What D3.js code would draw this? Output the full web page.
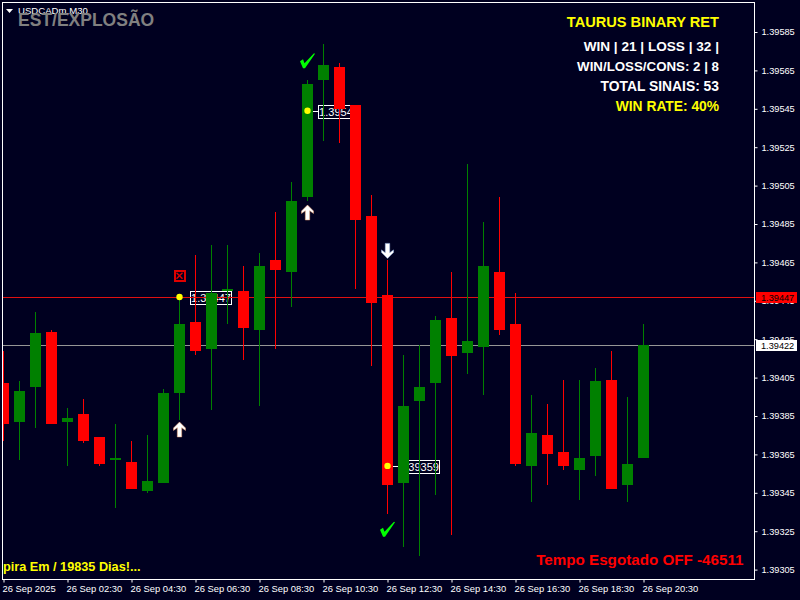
<!DOCTYPE html>
<html><head><meta charset="utf-8">
<script src="https://cdnjs.cloudflare.com/ajax/libs/d3/7.8.5/d3.min.js"></script>
<style>html,body{margin:0;padding:0;background:#000020;overflow:hidden}svg{display:block}text{font-family:"Liberation Sans",Arial,sans-serif}</style>
</head><body><svg id="c" width="800" height="600"></svg>
<script>
// Prices in points (1 point = 0.00001)
const opens=[139402,139382,139400,139429,139382,139386,139374,139362,139361,139346,139350,139397,139434,139420,139450,139450,139430,139466,139460,139499,139560,139567,139547,139489,139448,139350,139393,139402,139436,139418,139421,139460,139433,139359,139375,139366,139357,139364,139404,139349,139363];
const highs=[139419,139403,139439,139430,139389,139394,139374,139381,139372,139375,139399,139447,139469,139474,139474,139463,139470,139491,139507,139560,139579,139569,139547,139500,139466,139417,139422,139437,139460,139516,139486,139499,139449,139396,139391,139404,139404,139410,139419,139395,139433];
const lows=[139372,139362,139379,139381,139359,139371,139359,139337,139347,139345,139350,139383,139417,139388,139433,139414,139390,139420,139442,139497,139528,139527,139451,139411,139334,139317,139312,139344,139323,139407,139396,139427,139359,139340,139349,139357,139341,139354,139347,139340,139363];
const closes=[139381,139398,139428,139381,139384,139372,139360,139363,139347,139351,139397,139433,139419,139449,139451,139431,139463,139461,139497,139558,139568,139545,139487,139444,139349,139390,139400,139435,139416,139424,139463,139430,139360,139376,139365,139359,139363,139403,139347,139360,139422];
const priceTicks=[139585,139565,139545,139525,139505,139485,139465,139445,139425,139405,139385,139365,139345,139325,139305];
const timeIdx=[0,4,8,12,16,20,24,28,32,36,40];
const timeLabels=["26 Sep 2025","26 Sep 02:30","26 Sep 04:30","26 Sep 06:30","26 Sep 08:30","26 Sep 10:30","26 Sep 12:30","26 Sep 14:30","26 Sep 16:30","26 Sep 18:30","26 Sep 20:30"];
const bidPrice=139422, askPrice=139447;
const dotIdx=[11,19,24], dotPrice=[139447,139544,139359], dotText=["1.39447","1.39544","1.39359"];
const upIdx=[11,19], upPrice=[139378,139491];
const downIdx=[24], downPrice=[139471];
const checkIdx=[19,24], checkPrice=[139570,139326];
const crossIdx=[11], crossPrice=[139458];
const panelLines=["TAURUS BINARY RET","WIN | 21 | LOSS | 32 |","WIN/LOSS/CONS: 2 | 8","TOTAL SINAIS: 53","WIN RATE: 40%"];

const svg=d3.select("#c");
const L=2,T=2,R=754,B=579;
const x=d3.scaleLinear().domain([0,40]).range([3,643]);
const y=d3.scaleLinear().domain([139585,139305]).range([32,569.6]);
const GREEN="#008000",RED="#ff0000";
svg.append("rect").attr("width",800).attr("height",600).attr("fill","#000020");
svg.append("defs").append("clipPath").attr("id","plot").append("rect").attr("x",L+1).attr("y",T+1).attr("width",R-L-1).attr("height",B-T-1);
const plot=svg.append("g").attr("clip-path","url(#plot)").attr("shape-rendering","crispEdges");

// price lines
plot.append("rect").attr("x",L).attr("width",R-L).attr("y",Math.round(y(bidPrice))).attr("height",1).attr("fill","#969696");

// dot labels (behind candles)
const lab=plot.selectAll("g.lab").data(dotIdx).join("g").attr("class","lab")
  .attr("transform",(d,i)=>`translate(${x(d)},${Math.round(y(dotPrice[i]))})`);
lab.append("rect").attr("x",6).attr("y",0).attr("width",5).attr("height",1).attr("fill","#fff");
lab.append("rect").attr("x",11.5).attr("y",-5.5).attr("width",41).attr("height",13).attr("fill","#000020").attr("stroke","#fff");
lab.append("text").attr("x",32).attr("y",5).attr("text-anchor","middle").attr("font-size",11).attr("fill","#fff").attr("shape-rendering","auto").text((d,i)=>dotText[i]);
// ask line crosses the label of the first signal
plot.append("rect").attr("x",L).attr("width",R-L).attr("y",Math.round(y(askPrice))).attr("height",1).attr("fill","#e01010");

// candles
const idx=d3.range(opens.length);
const col=i=>closes[i]>=opens[i]?GREEN:RED;
plot.selectAll("rect.wick").data(idx).join("rect").attr("class","wick")
  .attr("x",i=>x(i)).attr("width",1)
  .attr("y",i=>Math.round(y(highs[i]))).attr("height",i=>Math.round(y(lows[i]))-Math.round(y(highs[i])))
  .attr("fill",col);
plot.selectAll("rect.body").data(idx).join("rect").attr("class","body")
  .attr("x",i=>x(i)-5).attr("width",11)
  .attr("y",i=>Math.round(y(Math.max(opens[i],closes[i]))))
  .attr("height",i=>Math.max(1,Math.round(y(Math.min(opens[i],closes[i])))-Math.round(y(Math.max(opens[i],closes[i])))))
  .attr("fill",col);

// markers
const marks=svg.append("g");
marks.selectAll("circle.dot").data(dotIdx).join("circle").attr("class","dot")
  .attr("cx",d=>x(d)+.5).attr("cy",(d,i)=>y(dotPrice[i])).attr("r",3.2).attr("fill","#ffff00");
const upPath="M0,-7.5L6,-1.5L6,1L2.2,-1.8L2.2,7.5L-2.2,7.5L-2.2,-1.8L-6,1L-6,-1.5Z";
marks.selectAll("path.up").data(upIdx).join("path").attr("class","up").attr("d",upPath).attr("fill","#fff")
  .attr("stroke","#f0a070").attr("stroke-width",.5)
  .attr("transform",(d,i)=>`translate(${x(d)+.5},${y(upPrice[i])})`);
marks.selectAll("path.down").data(downIdx).join("path").attr("class","down").attr("d",upPath).attr("fill","#fff")
  .attr("stroke","#a0c0f0").attr("stroke-width",.5)
  .attr("transform",(d,i)=>`translate(${x(d)+.5},${y(downPrice[i])}) scale(1,-1)`);
marks.selectAll("path.check").data(checkIdx).join("path").attr("class","check")
  .attr("d","M-7.5,0.5L-4.5,-1.5L-3,2.5L6.5,-7.5L7.5,-7L-2.5,7.5L-4.5,7.5Z").attr("fill","#00ff00")
  .attr("transform",(d,i)=>`translate(${x(d)+.5},${y(checkPrice[i])})`);
const cr=marks.selectAll("g.cross").data(crossIdx).join("g").attr("class","cross")
  .attr("transform",(d,i)=>`translate(${x(d)+.5},${y(crossPrice[i])})`);
cr.append("rect").attr("x",-5).attr("y",-5).attr("width",10).attr("height",10).attr("fill","none").attr("stroke","#e00000").attr("stroke-width",2).attr("shape-rendering","crispEdges");
cr.append("path").attr("d","M-3,-3L3,3M3,-3L-3,3").attr("stroke","#e00000").attr("stroke-width",1.4);

// frame
svg.append("rect").attr("x",L+.5).attr("y",T+.5).attr("width",R-L).attr("height",B-T).attr("fill","none").attr("stroke","#fff").attr("shape-rendering","crispEdges");

// axes
const yAxis=d3.axisRight(y).tickValues(priceTicks).tickSize(3).tickPadding(4).tickFormat(d=>(d/1e5).toFixed(5));
const gy=svg.append("g").attr("transform",`translate(${R+.5},0)`).call(yAxis);
gy.select(".domain").remove();
gy.selectAll("line").attr("stroke","#fff");
gy.selectAll("text").attr("fill","#fff").attr("font-size",9.2).style("font-family",'"Liberation Sans"');
const xAxis=d3.axisBottom(x).tickValues(timeIdx).tickSize(3).tickFormat((d,i)=>timeLabels[i]);
const gx=svg.append("g").attr("transform",`translate(0.5,${B+.5})`).call(xAxis);
gx.select(".domain").remove();
gx.selectAll("line").attr("stroke","#fff");
gx.selectAll("text").attr("fill","#fff").attr("font-size",9.4).attr("text-anchor","start").attr("x",-1.5).attr("y",6).style("font-family",'"Liberation Sans"');

// price tags
const tag=(p,fill)=>{const g=svg.append("g");
  g.append("rect").attr("x",756).attr("width",41).attr("y",Math.round(y(p))-5).attr("height",11).attr("fill",fill);
  g.append("text").attr("x",761).attr("y",Math.round(y(p))+3.5).attr("font-size",9.2).attr("fill","#000").text((p/1e5).toFixed(5));};
tag(askPrice,"#ff0000");tag(bidPrice,"#ffffff");

// top-left
svg.append("path").attr("d","M6,9L13,9L9.5,13Z").attr("fill","#fff");
svg.append("text").attr("x",18).attr("y",14).attr("font-size",9.6).attr("fill","#fff").text("USDCADm,M30");
svg.append("text").attr("x",18).attr("y",26).attr("font-size",17.5).attr("font-weight","bold").attr("fill","#808080").text("EST/EXPLOSÃO");

// right panel
const panelY=[27,51,71,91,111],panelSize=[14.6,13.6,13.3,13.85,13.8],panelCol=["#ffff00","#fff","#fff","#fff","#ffff00"];
svg.selectAll("text.panel").data(panelLines).join("text").attr("class","panel")
  .attr("x",719).attr("y",(d,i)=>panelY[i]).attr("text-anchor","end").attr("font-weight","bold")
  .attr("font-size",(d,i)=>panelSize[i]).attr("fill",(d,i)=>panelCol[i]).text(d=>d);

// bottom texts
svg.append("text").attr("x",3).attr("y",571).attr("font-size",12.7).attr("font-weight","bold").attr("fill","#ffff00").text("pira Em / 19835 Dias!...");
svg.append("text").attr("x",743.5).attr("y",565).attr("text-anchor","end").attr("font-size",15.2).attr("font-weight","bold").attr("fill","#ff0000").text("Tempo Esgotado OFF -46511");
</script></body></html>
